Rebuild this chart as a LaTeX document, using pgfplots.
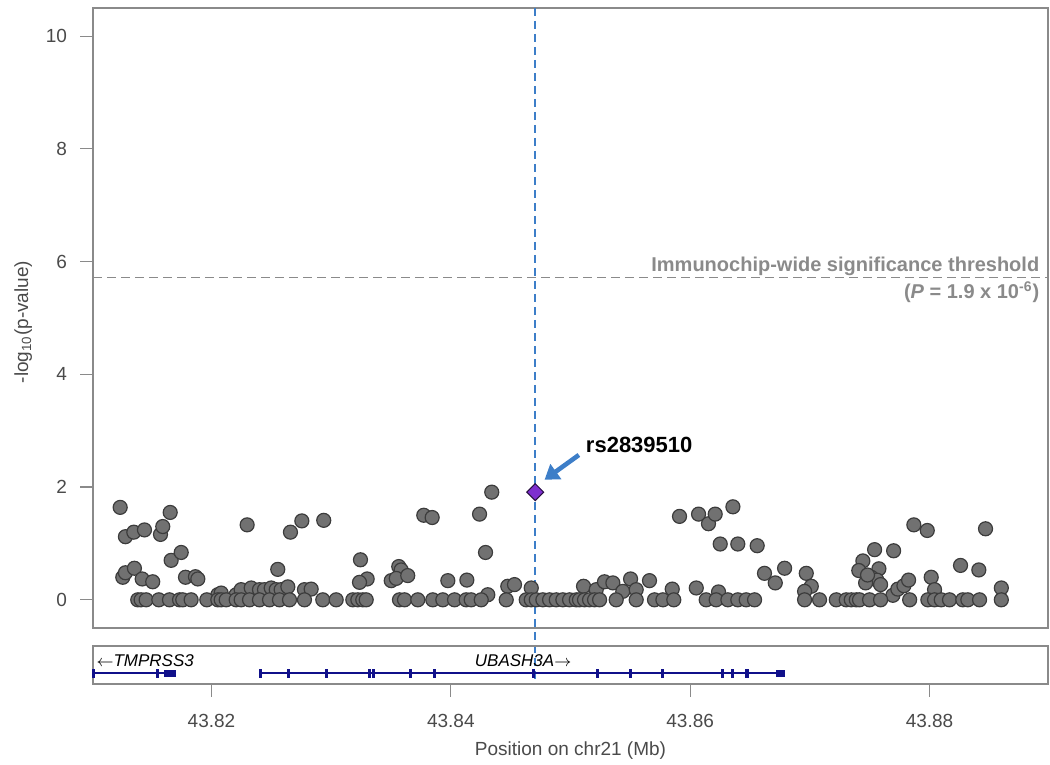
\documentclass[border=0pt]{standalone}
\usepackage{pgfplots}
\pgfplotsset{compat=1.18}
\usepackage{pgfplotstable}
\usepackage{fontspec}
\setmainfont{Liberation Sans}
\usetikzlibrary{arrows.meta}

\definecolor{axgray}{HTML}{8A8A8A}
\definecolor{txtgray}{HTML}{4A4A4A}
\definecolor{ptfill}{HTML}{717171}
\definecolor{ptedge}{HTML}{3C3C3C}
\definecolor{snpblue}{HTML}{3D7EC8}
\definecolor{snppurple}{HTML}{7E2FCF}
\definecolor{genenavy}{HTML}{10108A}

% position (Mb)  -log10(p)
\pgfplotstableread{
pos logp
43.81237 1.64
43.81281 1.12
43.81351 1.20
43.81440 1.24
43.81574 1.16
43.81593 1.30
43.81655 1.55
43.82298 1.33
43.82660 1.20
43.82755 1.40
43.82938 1.41
43.81259 0.40
43.81281 0.48
43.81356 0.56
43.81421 0.37
43.81509 0.32
43.81663 0.70
43.81747 0.84
43.81783 0.40
43.81866 0.41
43.81886 0.37
43.82554 0.54
43.82053 0.09
43.82081 0.12
43.82206 0.09
43.82248 0.18
43.82332 0.21
43.82401 0.18
43.82443 0.18
43.82499 0.21
43.82541 0.18
43.82582 0.18
43.82638 0.23
43.82777 0.18
43.82833 0.19
43.81384 0
43.81412 0
43.81454 0
43.81560 0
43.81649 0
43.81733 0
43.81760 0
43.81830 0
43.81961 0
43.82053 0
43.82081 0
43.82123 0
43.82206 0
43.82248 0
43.82318 0
43.82401 0
43.82485 0
43.82568 0
43.82652 0
43.82777 0
43.82930 0
43.83042 0
43.84342 1.91
43.84240 1.52
43.83774 1.50
43.83844 1.46
43.84290 0.84
43.83245 0.71
43.83301 0.37
43.83237 0.31
43.83565 0.59
43.83585 0.53
43.83502 0.34
43.83544 0.38
43.83640 0.43
43.83975 0.34
43.84134 0.35
43.84476 0.24
43.84532 0.27
43.84672 0.21
43.84309 0.09
43.83181 0
43.83223 0
43.83264 0
43.83293 0
43.83571 0
43.83613 0
43.83724 0
43.83849 0
43.83933 0
43.84031 0
43.84128 0
43.84170 0
43.84254 0
43.84463 0
43.84630 0
43.84672 0
43.84714 0
43.84769 0
43.84825 0
43.84881 0
43.84936 0
43.84992 0
43.85048 0
43.85911 1.48
43.86070 1.52
43.86153 1.35
43.86209 1.52
43.86357 1.65
43.86251 0.99
43.86398 0.99
43.86560 0.96
43.86621 0.47
43.86711 0.30
43.86789 0.56
43.86970 0.47
43.87012 0.24
43.86956 0.15
43.85109 0.24
43.85215 0.18
43.85284 0.32
43.85354 0.30
43.85437 0.15
43.85502 0.37
43.85549 0.18
43.85660 0.34
43.85850 0.19
43.86051 0.21
43.86237 0.14
43.85075 0
43.85117 0
43.85159 0
43.85201 0
43.85243 0
43.85382 0
43.85549 0
43.85702 0
43.85772 0
43.85863 0
43.86134 0
43.86217 0
43.86315 0
43.86398 0
43.86468 0
43.86538 0
43.86956 0
43.87869 1.33
43.87981 1.23
43.88468 1.26
43.87541 0.89
43.87700 0.87
43.87443 0.69
43.87409 0.52
43.87577 0.55
43.87513 0.40
43.87560 0.35
43.87591 0.27
43.87694 0.08
43.87735 0.19
43.87786 0.25
43.87825 0.35
43.88014 0.40
43.88042 0.18
43.88259 0.61
43.88412 0.53
43.88600 0.21
43.87466 0.30
43.87482 0.44
43.87081 0
43.87221 0
43.87304 0
43.87346 0
43.87388 0
43.87415 0
43.87499 0
43.87591 0
43.87834 0
43.87986 0
43.88042 0
43.88098 0
43.88167 0
43.88278 0
43.88320 0
43.88418 0
43.88600 0
}\snps

\pgfplotsset{
  base/.style={
    scale only axis, width=477.5pt,
    xmin=43.8101, xmax=43.8899,
    axis line style={axgray, line width=0.6pt},
    tick style={axgray, line width=0.6pt},
    tick align=outside, major tick length=6.5pt,
    tick pos=left,
    /pgf/number format/assume math mode=true,
    ticklabel style={font=\fontsize{9.5}{11}\selectfont, text=txtgray},
    label style={font=\fontsize{9.5}{11}\selectfont, text=txtgray},
  },
}

\begin{document}
\begin{tikzpicture}
\path[use as bounding box] (0,0) rectangle (525pt,382.5pt);

\begin{axis}[base,
  at={(46.5pt,68.5pt)}, anchor=south west, height=310pt,
  ymin=-0.5, ymax=10.5,
  xtick=\empty, ytick={0,2,4,6,8,10},
  yticklabel style={xshift=-3pt},
  ylabel={-log\textsubscript{10}(p-value)},
  ylabel style={at={(ticklabel cs:0.5)}, xshift=-2pt},
  clip=false,
]
\addplot[axgray, line width=0.9pt, dash pattern=on 4.5pt off 2.5pt]
  coordinates {(43.8101,5.72) (43.8899,5.72)};
\addplot[only marks, mark=*, mark size=3.5pt,
  mark options={fill=ptfill, draw=ptedge, line width=0.6pt}]
  table[x=pos, y=logp] {\snps};
\addplot[only marks, mark=square*, mark size=3pt,
  mark options={rotate=45, fill=snppurple, draw=black!70!snppurple, line width=0.5pt}]
  coordinates {(43.84705,1.91)};
\addplot[snpblue, line width=1pt, dash pattern=on 4pt off 2.5pt]
  coordinates {(43.84705,10.5) (43.84705,-1.49)};
\addplot[snpblue, line width=2.3pt, -{Triangle[length=7pt, width=9pt]}]
  coordinates {(43.85070,2.57) (43.84783,2.13)};
\node[anchor=base west, font=\bfseries\fontsize{11}{13}\selectfont, inner sep=0pt]
  at (axis cs:43.85126,2.61) {rs2839510};
\node[anchor=base east, font=\bfseries\fontsize{10}{12}\selectfont, text=axgray, inner sep=0pt]
  at (axis cs:43.8892,5.82) {Immunochip-wide significance threshold};
\node[anchor=base east, font=\bfseries\fontsize{10}{12}\selectfont, text=axgray, inner sep=0pt]
  at (axis cs:43.8892,5.35) {(\textit{P} = 1.9 x 10\textsuperscript{-6})};
\end{axis}

\begin{axis}[base,
  at={(46.5pt,40.5pt)}, anchor=south west, height=19pt,
  ymin=0, ymax=1, ytick=\empty,
  xtick={43.82,43.84,43.86,43.88},
  xticklabel style={/pgf/number format/.cd, fixed, precision=2, /tikz/.cd, yshift=-5pt},
  xlabel={Position on chr21 (Mb)},
  xlabel style={yshift=0pt},
]
% TMPRSS3
\addplot[genenavy, line width=1pt] coordinates {(43.8101,0.28) (43.81705,0.28)};
\addplot[genenavy, line width=3.8pt] coordinates {(43.81607,0.28) (43.81705,0.28)};
\addplot[genenavy, only marks, mark=|, mark size=2.1pt, mark options={line width=1.6pt}]
  coordinates {(43.81014,0.28) (43.81551,0.28)};
% UBASH3A
\addplot[genenavy, line width=1pt] coordinates {(43.82401,0.28) (43.86790,0.28)};
\addplot[genenavy, line width=3.8pt] coordinates {(43.86719,0.28) (43.86790,0.28)};
\addplot[genenavy, only marks, mark=|, mark size=2.1pt, mark options={line width=1.6pt}]
  coordinates {(43.82409,0.28) (43.82646,0.28) (43.82964,0.28) (43.83320,0.28)
  (43.83354,0.28) (43.83663,0.28) (43.83864,0.28) (43.84691,0.28) (43.85228,0.28)
  (43.85502,0.28) (43.85767,0.28) (43.86268,0.28) (43.86352,0.28) (43.86474,0.28)};
\node[anchor=base west, inner sep=0pt, font=\itshape\fontsize{8.5}{10}\selectfont]
  at (axis cs:43.81036,0.455) {$\leftarrow$TMPRSS3};
\node[anchor=base west, inner sep=0pt, font=\itshape\fontsize{8.5}{10}\selectfont]
  at (axis cs:43.84198,0.455) {UBASH3A$\rightarrow$};
\end{axis}
\end{tikzpicture}
\end{document}
